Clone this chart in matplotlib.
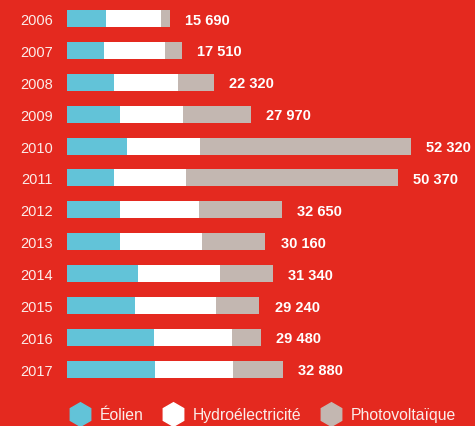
import matplotlib
matplotlib.use("Agg")
import matplotlib.pyplot as plt
from matplotlib.lines import Line2D

# production by source (MWh)
years = ["2006", "2007", "2008", "2009", "2010", "2011",
         "2012", "2013", "2014", "2015", "2016", "2017"]
eolien = [5930, 5630, 7150, 8000, 9130, 7150, 8000, 8000, 10800, 10340, 13230, 13380]
hydro = [8370, 9280, 9730, 9580, 11100, 10950, 12120, 12470, 12470, 12320, 11860, 11860]
totals = [15690, 17510, 22320, 27970, 52320, 50370, 32650, 30160, 31340, 29240, 29480, 32880]
photo = [t - e - h for t, e, h in zip(totals, eolien, hydro)]
labels = ["15 690", "17 510", "22 320", "27 970", "52 320", "50 370",
          "32 650", "30 160", "31 340", "29 240", "29 480", "32 880"]

BG = "#E4291F"
CYAN = "#62C3D8"
GREY = "#C3B7B1"
TXT = "#FBEDEA"

plt.rcParams["font.family"] = ["Liberation Sans", "DejaVu Sans"]

fig = plt.figure(figsize=(4.75, 4.27), dpi=100, facecolor=BG)
ax = fig.add_axes([67 / 475, 37 / 427, 408 / 475, 390 / 427])
ax.set_facecolor(BG)

pos = list(range(len(years)))
h = 0.533
ax.barh(pos, eolien, height=h, color=CYAN, label="Éolien")
ax.barh(pos, hydro, left=eolien, height=h, color="white", label="Hydroélectricité")
left2 = [e + w for e, w in zip(eolien, hydro)]
ax.barh(pos, photo, left=left2, height=h, color=GREY, label="Photovoltaïque")

# totals to the right of each bar
for i, (t, lab) in enumerate(zip(totals, labels)):
    ax.annotate(lab, (t, i), xytext=(11, -0.8), textcoords="offset points",
                ha="left", va="center", color="white", fontsize=10.5,
                fontweight="bold")

px = 0.006575  # pixels per unit
ax.set_xlim(0, 408 / px)
ax.set_ylim((390 - 19.5) / 31.88, -19.5 / 31.88)
ax.set_yticks(pos)
ax.set_yticklabels(years, fontsize=10.5, color=TXT)
ax.tick_params(axis="y", length=0, pad=10)
ax.set_xticks([])
for s in ax.spines.values():
    s.set_visible(False)

handles = [Line2D([], [], marker="h", linestyle="none", markersize=17,
                  markerfacecolor=c, markeredgecolor=c)
           for c in (CYAN, "white", GREY)]
leg = fig.legend(handles, ["Éolien", "Hydroélectricité", "Photovoltaïque"],
                 loc="center left", bbox_to_anchor=(67.5 / 475, 11 / 427),
                 ncol=3, frameon=False, fontsize=11.3, handlelength=1.6,
                 handletextpad=0.48, columnspacing=1.05, borderpad=0,
                 borderaxespad=0)
for t in leg.get_texts():
    t.set_color(TXT)

fig.savefig("out.png", dpi=100, facecolor=BG)
